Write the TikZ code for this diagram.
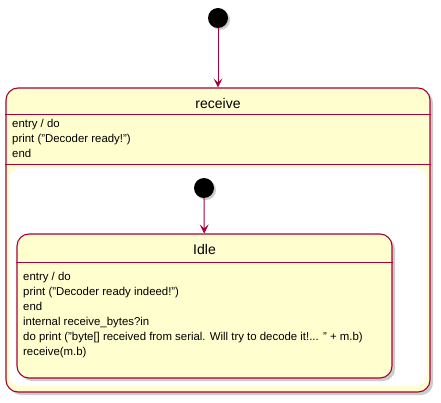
\documentclass[tikz,border=0pt]{standalone}
\usepackage{fontspec}
\setmainfont{Liberation Sans}
\usetikzlibrary{arrows.meta,positioning,shadows}
\definecolor{umlfill}{HTML}{FEFECE}
\definecolor{umlline}{HTML}{A80036}
\tikzset{
  statebox/.style={rectangle,rounded corners=12pt,draw=umlline,line width=1.1pt,fill=umlfill,
    drop shadow={shadow xshift=3pt,shadow yshift=-3pt,fill=black!40,opacity=.5}},
  startdot/.style={circle,fill=black,minimum size=20pt,inner sep=0pt,
    drop shadow={shadow xshift=2pt,shadow yshift=-2pt,fill=black!40,opacity=.5}},
  trans/.style={-{Stealth[length=9pt,width=9pt,inset=4pt]},draw=umlline,line width=0.9pt},
  titletext/.style={font=\fontsize{14}{16}\selectfont,inner sep=0pt},
  attrtext/.style={font=\fontsize{11.4}{15}\selectfont,align=left,anchor=north west,inner sep=0pt},
}

\begin{document}
\begin{tikzpicture}[x=1pt,y=-1pt]
  \useasboundingbox (0,0) rectangle (441,403);
  % outer composite state
  \node[startdot] (start) at (218,18) {};
  \node[statebox,minimum width=424pt,minimum height=304pt] (receive) at (218,240) {};
  \node[rectangle,rounded corners=10pt,fill=white,minimum width=417pt,minimum height=218pt] (body) at (218,277) {};
  \node[titletext] (rtitle) at (218,103) {receive};
  \coordinate (rsep1) at (6,115);
  \coordinate (rsep2) at (6,165);
  \draw[umlline,line width=1pt] (receive.west |- rsep1) -- (receive.east |- rsep1);
  \draw[umlline,line width=1pt] (receive.west |- rsep2) -- (receive.east |- rsep2);
  \node[attrtext] (rattr) at (12,119) {entry / do\\print ("Decoder ready!")\\end};

  % inner state
  \node[startdot] (start2) at (204,188) {};
  \node[statebox,minimum width=375pt,minimum height=144pt] (idle) at (204.5,306) {};
  \node[titletext] (ititle) at (204.5,249) {Idle};
  \coordinate (isep) at (17,262);
  \draw[umlline,line width=1pt] (idle.west |- isep) -- (idle.east |- isep);
  \node[attrtext] (iattr) at (23,272) {entry / do\\print ("Decoder ready indeed!")\\end\\internal receive\_bytes?in\\do print ("byte[] received from serial. Will try to decode it!... " + m.b)\\receive(m.b)};

      \draw[trans] (start) to (receive);
      \draw[trans] (start2) to (idle);
\end{tikzpicture}
\end{document}
